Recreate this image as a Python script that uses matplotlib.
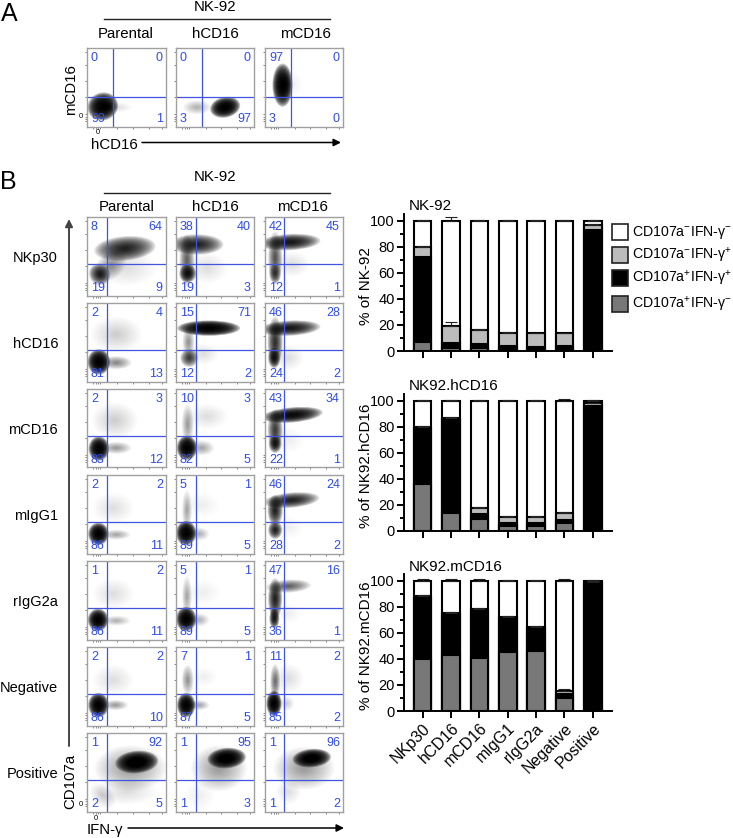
import matplotlib
matplotlib.use('Agg')
import matplotlib.pyplot as plt
from matplotlib.patches import Ellipse, Rectangle

plt.rcParams['font.family'] = ['Liberation Sans', 'DejaVu Sans']
plt.rcParams['mathtext.fontset'] = 'custom'
plt.rcParams['mathtext.rm'] = 'Liberation Sans'
plt.rcParams['mathtext.default'] = 'regular'

W, H = 733, 838

# ---- flow plots: quadrant percentages (upper left, upper right, lower left, lower right)
columns = ['Parental', 'hCD16', 'mCD16']
row_names = ['NKp30', 'hCD16', 'mCD16', 'mIgG1', 'rIgG2a', 'Negative', 'Positive']

pct_a = [(0, 0, 99, 1), (0, 0, 3, 97), (97, 0, 3, 0)]
pct_nkp30 = [(8, 64, 19, 9), (38, 40, 19, 3), (42, 45, 12, 1)]
pct_hcd16 = [(2, 4, 81, 13), (15, 71, 12, 2), (46, 28, 24, 2)]
pct_mcd16 = [(2, 3, 83, 12), (10, 3, 82, 5), (43, 34, 22, 1)]
pct_migg1 = [(2, 2, 86, 11), (5, 1, 89, 5), (46, 24, 28, 2)]
pct_rigg2a = [(1, 2, 86, 11), (5, 1, 89, 5), (47, 16, 36, 1)]
pct_negative = [(2, 2, 86, 10), (7, 1, 87, 5), (11, 2, 85, 2)]
pct_positive = [(1, 92, 2, 5), (1, 95, 1, 3), (1, 96, 1, 2)]
pct_b = [pct_nkp30, pct_hcd16, pct_mcd16, pct_migg1, pct_rigg2a, pct_negative, pct_positive]

# cell populations: x, y, width, height, tilt, darkness
cells_a = [
    [(.20, .26, .30, .27, 20, 1.0), (.38, .25, .30, .10, 0, .12)],
    [(.63, .25, .30, .20, 12, 1.0), (.27, .25, .28, .14, 0, .25)],
    [(.225, .53, .20, .42, 0, 1.0), (.35, .55, .20, .25, 0, .08)],
]
cells_nkp30 = [
    [(.48, .60, .60, .24, 5, .85), (.16, .27, .20, .22, 40, .85), (.30, .38, .35, .25, 45, .35), (.50, .35, .60, .35, 0, .1)],
    [(.27, .65, .52, .20, 0, .85), (.14, .45, .15, .50, 0, .6), (.15, .28, .17, .18, 0, .9), (.40, .35, .40, .30, 0, .14)],
    [(.32, .68, .60, .16, 3, .9), (.13, .48, .14, .52, 0, .65), (.13, .28, .12, .20, 0, .7), (.35, .40, .35, .25, 0, .1)],
]
cells_hcd16 = [
    [(.15, .25, .22, .25, 0, 1.0), (.37, .24, .30, .13, 0, .45), (.37, .60, .50, .35, 0, .18)],
    [(.42, .68, .62, .15, 0, 1.0), (.17, .30, .18, .18, 0, .75), (.16, .50, .12, .30, 0, .4), (.35, .35, .30, .20, 0, .1)],
    [(.32, .68, .60, .15, 3, .9), (.13, .50, .15, .50, 0, .8), (.115, .30, .12, .20, 0, .85), (.30, .30, .30, .25, 0, .1)],
]
cells_mcd16 = [
    [(.15, .24, .20, .24, 0, 1.0), (.37, .25, .30, .12, 0, .35), (.35, .60, .45, .35, 0, .16)],
    [(.14, .25, .20, .24, 0, 1.0), (.15, .55, .12, .40, 0, .35), (.40, .65, .40, .25, 0, .12), (.33, .25, .25, .15, 0, .3)],
    [(.35, .67, .60, .15, 5, .95), (.13, .48, .15, .40, 0, .75), (.13, .30, .13, .18, 0, .85), (.30, .35, .30, .25, 0, .09)],
]
cells_migg1 = [
    [(.145, .25, .20, .22, 0, 1.0), (.37, .24, .28, .10, 0, .3), (.33, .58, .40, .30, 0, .12)],
    [(.13, .26, .20, .24, 0, 1.0), (.14, .55, .10, .40, 0, .3), (.30, .25, .20, .13, 0, .25), (.33, .62, .35, .25, 0, .09)],
    [(.34, .68, .55, .15, 5, .85), (.13, .55, .15, .30, 0, .85), (.13, .30, .14, .18, 0, .85), (.30, .33, .30, .22, 0, .09)],
]
cells_rigg2a = [
    [(.14, .25, .20, .22, 0, 1.0), (.37, .24, .28, .10, 0, .25), (.33, .58, .40, .30, 0, .12)],
    [(.13, .26, .20, .24, 0, 1.0), (.14, .55, .10, .40, 0, .3), (.30, .25, .20, .13, 0, .25), (.35, .60, .35, .25, 0, .08)],
    [(.30, .68, .45, .13, 3, .6), (.13, .52, .14, .40, 0, .85), (.12, .27, .10, .20, 0, .9), (.30, .33, .25, .20, 0, .08)],
]
cells_negative = [
    [(.145, .26, .20, .24, 0, 1.0), (.36, .26, .25, .10, 0, .35), (.33, .58, .40, .30, 0, .12)],
    [(.13, .26, .18, .24, 0, 1.0), (.15, .58, .12, .30, 0, .4), (.30, .26, .20, .10, 0, .3), (.36, .62, .25, .20, 0, .09)],
    [(.115, .28, .15, .25, 0, 1.0), (.13, .56, .10, .35, 0, .55), (.30, .60, .30, .30, 0, .12), (.28, .28, .15, .15, 0, .15)],
]
cells_positive = [
    [(.63, .63, .42, .22, 5, 1.0), (.55, .55, .70, .45, 0, .35), (.20, .20, .20, .30, 45, .15), (.50, .25, .60, .25, 0, .1)],
    [(.65, .68, .38, .20, 5, 1.0), (.55, .55, .55, .45, 0, .35), (.30, .20, .30, .30, 45, .09)],
    [(.60, .68, .38, .18, 5, 1.0), (.50, .55, .60, .42, 0, .35), (.30, .25, .25, .25, 45, .12)],
]
cells_b = [cells_nkp30, cells_hcd16, cells_mcd16, cells_migg1, cells_rigg2a, cells_negative, cells_positive]

# ---- stacked bars, top edge of every segment
stimuli = ['NKp30', 'hCD16', 'mCD16', 'mIgG1', 'rIgG2a', 'Negative', 'Positive']
legend_labels = ['CD107a$^{-}$IFN-γ$^{-}$', 'CD107a$^{-}$IFN-γ$^{+}$',
                 'CD107a$^{+}$IFN-γ$^{+}$', 'CD107a$^{+}$IFN-γ$^{-}$']

nk92_gray = [7, 2, 2, 1, 1, 1, 1]
nk92_black = [72, 6, 5, 3.5, 3, 3.5, 93]
nk92_light = [80, 19.5, 16.5, 14, 13.5, 13.5, 97]
nk92_white = [100, 100, 100, 100, 100, 100, 100]
nk92_err = [.6, 2.5, .5, .6, .6, .4, .8]

hcd16_gray = [36, 14, 9, 4, 4, 6.5, 1]
hcd16_black = [78, 85, 13, 6, 6, 8.5, 96]
hcd16_light = [80, 87, 18, 11, 11, 13.5, 98]
hcd16_white = [100, 100, 100, 100, 100, 100, 100]
hcd16_err = [.6, .7, .6, .7, .6, 1.3, .5]

mcd16_gray = [40, 43, 41, 45, 46, 10, 1]
mcd16_black = [87, 74, 77, 71, 63.5, 13, 98]
mcd16_light = [88, 75, 78, 72.5, 64.5, 15.5, 99]
mcd16_white = [100, 100, 100, 100, 100, 100, 100]
mcd16_err = [1, 1.2, 1, .6, .5, 1.2, .4]

fig = plt.figure(figsize=(W / 100, H / 100), dpi=100)
overlay = fig.add_axes([0, 0, 1, 1], zorder=5)
overlay.set_xlim(0, W)
overlay.set_ylim(H, 0)
overlay.axis('off')


def px_axes(left, top, right, bottom):
    return fig.add_axes([left / W, 1 - bottom / H, (right - left) / W, (bottom - top) / H])


def flow_panel(box, gate_x, gate_y, pct, cells):
    ax = px_axes(*box)
    ax.set_xlim(0, 1)
    ax.set_ylim(0, 1)
    layers = 16
    for x, y, w, h, tilt, level in cells:
        # stack of faint ellipses so the population fades out at its edge
        alpha = 1 - (1 - min(level, .985)) ** (1 / layers)
        for k in range(layers):
            scale = 1.3 - 1.15 * k / (layers - 1)
            ax.add_patch(Ellipse((x, y), w * scale, h * scale, angle=tilt,
                                 fc='black', ec='none', alpha=alpha))
    ax.axvline(gate_x, color='#3f55e0', lw=.9)
    ax.axhline(gate_y, color='#3f55e0', lw=.9)
    blue = '#2f4be8'
    ax.text(.05, .87, pct[0], color=blue, fontsize=9, ha='left', va='center')
    ax.text(.96, .87, pct[1], color=blue, fontsize=9, ha='right', va='center')
    ax.text(.05, .10, pct[2], color=blue, fontsize=9, ha='left', va='center')
    ax.text(.96, .10, pct[3], color=blue, fontsize=9, ha='right', va='center')
    ax.set_xticks([.08, .11, .14, .17, .38, .58, .78, .95])
    ax.set_yticks([.07, .10, .13, .16, .38, .58, .78, .95])
    ax.set_xticklabels([])
    ax.set_yticklabels([])
    ax.tick_params(length=1.5, width=.5, color='#555555')
    for s in ax.spines.values():
        s.set_color('#a0a0a0')
        s.set_linewidth(1)
    return ax


# panel A
a_left = [87, 176, 265]
a_right = [166, 254, 343]
a_gate = [113, 202, 291]
for i in range(3):
    flow_panel((a_left[i], 48, a_right[i], 127), (a_gate[i] - a_left[i]) / (a_right[i] - a_left[i]),
               (127 - 97) / 79, pct_a[i], cells_a[i])

# panel B
b_left = [87, 176, 265]
b_right = [166, 254, 343]
b_gate = [107, 196, 284]
b_top = [217, 303, 389, 475, 561, 647, 733]
for r in range(7):
    for c in range(3):
        flow_panel((b_left[c], b_top[r], b_right[c], b_top[r] + 78.5),
                   (b_gate[c] - b_left[c]) / (b_right[c] - b_left[c]), .405,
                   pct_b[r][c], cells_b[r][c])
    overlay.text(58, b_top[r] + 41, row_names[r], fontsize=10.5, ha='right', va='center')

# text and arrows around the flow plots
overlay.text(1, 14, 'A', fontsize=18, ha='left', va='center')
overlay.text(0, 182, 'B', fontsize=18, ha='left', va='center')
overlay.text(215, 7, 'NK-92', fontsize=10.8, ha='center', va='center')
overlay.plot([104, 330], [19, 19], color='#222222', lw=1)
overlay.text(215, 177, 'NK-92', fontsize=10.8, ha='center', va='center')
overlay.plot([104, 330], [193, 193], color='#222222', lw=1)
for x, name in zip([126, 215, 305], columns):
    overlay.text(x, 34, name, fontsize=10.8, ha='center', va='center')
for x, name in zip([127, 215, 302], columns):
    overlay.text(x, 207, name, fontsize=10.8, ha='center', va='center')
overlay.text(114, 145, 'hCD16', fontsize=10.8, ha='center', va='center')
overlay.text(71, 90, 'mCD16', fontsize=10.8, ha='center', va='center', rotation=90)
overlay.text(70, 781, 'CD107a', fontsize=10.8, ha='center', va='center', rotation=90)
overlay.text(105, 830, 'IFN-γ', fontsize=10.8, ha='center', va='center')
overlay.text(81, 117, '0', fontsize=5.5, ha='center', va='center')
overlay.text(98, 133, '0', fontsize=5.5, ha='center', va='center')
overlay.text(81, 804, '0', fontsize=5.5, ha='center', va='center')
overlay.text(96, 818, '0', fontsize=5.5, ha='center', va='center')
for start, end in [((142, 142.5), (341, 142.5)), ((128, 828), (344, 828))]:
    overlay.annotate('', xy=end, xytext=start,
                     arrowprops=dict(arrowstyle='-|>', color='black', lw=1.1, shrinkA=0, shrinkB=0, mutation_scale=11))
overlay.annotate('', xy=(69, 219), xytext=(69, 746),
                 arrowprops=dict(arrowstyle='-|>', color='#444444', lw=1.4, shrinkA=0, shrinkB=0, mutation_scale=11))


def bar_panel(top, bottom, title, ylabel, gray, black, light, white, err, show_names):
    y0 = bottom
    y100 = bottom - 130.3
    ax = px_axes(404, y100 - 130.3 * .05, 612, y0)
    ax.set_ylim(0, 105)
    ax.set_xlim(-.66, 6.68)
    x = list(range(7))
    # draw from the tallest down so every stack shows its segments
    for tops, colour in zip([white, light, black, gray], ['white', '#bcbcbc', 'black', '#787878']):
        ax.bar(x, tops, width=.62, color=colour, edgecolor='black', linewidth=1.5)
    ax.errorbar(x, white, yerr=[[0] * 7, err], fmt='none', ecolor='#222222', elinewidth=.8, capsize=4, capthick=.8)
    ax.errorbar(x, light, yerr=[[0] * 7, err], fmt='none', ecolor='#222222', elinewidth=.8, capsize=4, capthick=.8)
    for s in ['top', 'right']:
        ax.spines[s].set_visible(False)
    for s in ['left', 'bottom']:
        ax.spines[s].set_linewidth(1.4)
    ax.set_yticks([0, 20, 40, 60, 80, 100])
    ax.set_yticks([10, 30, 50, 70, 90], minor=True)
    ax.tick_params(axis='y', which='major', length=5, width=1.4, labelsize=10.5, pad=1.5)
    ax.tick_params(axis='y', which='minor', length=3, width=1.4)
    ax.set_xticks(x)
    ax.tick_params(axis='x', length=5, width=1.4, labelsize=11.5, pad=2)
    if show_names:
        ax.set_xticklabels(stimuli, rotation=45, ha='right', rotation_mode='anchor')
    else:
        ax.set_xticklabels([])
    overlay.text(409, top, title, fontsize=11, ha='left', va='center')
    overlay.text(366, bottom - 65, ylabel, fontsize=11, ha='center', va='center', rotation=90)
    return ax


bar_panel(206, 351, 'NK-92', '% of NK-92', nk92_gray, nk92_black, nk92_light, nk92_white, nk92_err, False)
bar_panel(386, 531, 'NK92.hCD16', '% of NK92.hCD16', hcd16_gray, hcd16_black, hcd16_light, hcd16_white, hcd16_err, False)
bar_panel(567, 711, 'NK92.mCD16', '% of NK92.mCD16', mcd16_gray, mcd16_black, mcd16_light, mcd16_white, mcd16_err, True)

# legend
for y, colour, label in zip([224, 247, 270, 296], ['white', '#bcbcbc', 'black', '#787878'], legend_labels):
    overlay.add_patch(Rectangle((612, y), 16, 16, fc=colour, ec='#222222', lw=1.2))
    overlay.text(632, y + 8, label, fontsize=10.2, ha='left', va='center')

plt.savefig('out.png', dpi=100)
